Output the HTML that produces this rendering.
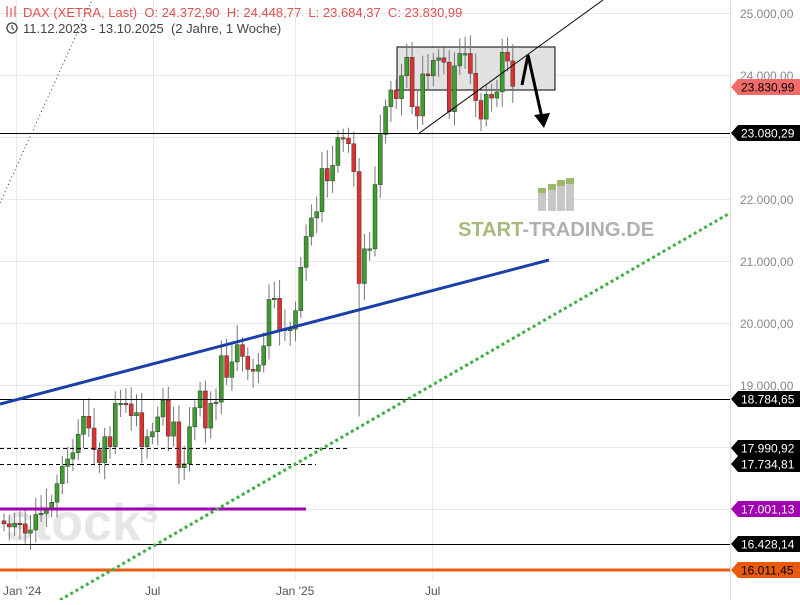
<!DOCTYPE html>
<html><head><meta charset="utf-8"><style>
body{margin:0;background:#fff;width:800px;height:600px;overflow:hidden;font-family:"Liberation Sans",sans-serif}
svg text{font-family:"Liberation Sans",sans-serif}
</style></head><body>
<svg id="s" width="800" height="600" xmlns="http://www.w3.org/2000/svg">
<g stroke="#e8e8e8" stroke-width="1">
<line x1="0" y1="13.5" x2="730" y2="13.5"/><line x1="0" y1="75.5" x2="730" y2="75.5"/><line x1="0" y1="137.5" x2="730" y2="137.5"/><line x1="0" y1="199.5" x2="730" y2="199.5"/><line x1="0" y1="261.5" x2="730" y2="261.5"/><line x1="0" y1="323.5" x2="730" y2="323.5"/><line x1="0" y1="385.5" x2="730" y2="385.5"/><line x1="0" y1="447.5" x2="730" y2="447.5"/><line x1="0" y1="509.5" x2="730" y2="509.5"/>
<line x1="16.5" y1="0" x2="16.5" y2="580"/><line x1="153.5" y1="0" x2="153.5" y2="580"/><line x1="295.5" y1="0" x2="295.5" y2="580"/><line x1="432.5" y1="0" x2="432.5" y2="580"/>
<line x1="730.5" y1="0" x2="730.5" y2="600" stroke="#ddd"/>
</g>
<text x="5" y="540" font-size="52" fill="#e6e6e6" font-weight="bold">stock³</text>
<g fill="#c8c8c8"><rect x="538" y="193" width="8" height="18"/><rect x="548" y="190" width="8" height="21"/><rect x="557" y="186" width="8" height="25"/><rect x="566" y="183" width="8" height="28"/></g>
<g fill="#9cb86a"><rect x="538" y="188" width="8" height="5"/><rect x="548" y="184" width="8" height="6"/><rect x="557" y="180" width="8" height="6"/><rect x="566" y="178" width="8" height="6"/></g>
<text x="458" y="236" font-size="20" font-weight="bold" fill="#a9b97a" textLength="196" lengthAdjust="spacingAndGlyphs">START<tspan fill="#b0b0b0">-TRADING.DE</tspan></text>
<rect x="397" y="47" width="158" height="43" fill="#e2e2e2" stroke="#000" stroke-width="1"/>
<g id="c"></g>
<line x1="0" y1="203" x2="92" y2="0" stroke="#333" stroke-width="1" stroke-dasharray="1 3"/>
<line x1="0" y1="133.5" x2="730" y2="133.5" stroke="#000"/>
<line x1="0" y1="399.5" x2="730" y2="399.5" stroke="#000"/>
<line x1="0" y1="544.5" x2="730" y2="544.5" stroke="#000"/>
<line x1="0" y1="448.5" x2="348" y2="448.5" stroke="#000" stroke-dasharray="4 3"/>
<line x1="0" y1="464.5" x2="316" y2="464.5" stroke="#000" stroke-dasharray="4 3"/>
<line x1="0" y1="509" x2="306" y2="509" stroke="#a000b0" stroke-width="3"/>
<line x1="0" y1="570" x2="730" y2="570" stroke="#e85a0e" stroke-width="3"/>
<line x1="0" y1="404" x2="549" y2="260" stroke="#1a3fa8" stroke-width="3"/>
<line x1="60" y1="600" x2="730" y2="213" stroke="#3cb043" stroke-width="3" stroke-dasharray="3 3"/>
<line x1="418" y1="134" x2="603" y2="0" stroke="#000" stroke-width="1"/>
<polyline points="522,85 528,55 542,118" fill="none" stroke="#000" stroke-width="3"/>
<polygon points="534,115 550,113 544,128" fill="#000"/>
<g font-size="12" fill="#888">
<text x="740" y="18">25.000,00</text><text x="740" y="80">24.000,00</text><text x="740" y="204">22.000,00</text><text x="740" y="266">21.000,00</text><text x="740" y="328">20.000,00</text><text x="740" y="390">19.000,00</text>
</g>
<g id="tags" font-size="12"></g>
<g font-size="12" fill="#555"><text x="3" y="595">Jan '24</text><text x="145" y="595">Jul</text><text x="276" y="595">Jan '25</text><text x="425" y="595">Jul</text></g>
<g fill="#e05050" font-size="13"><text x="23" y="17" xml:space="preserve">DAX (XETRA, Last)  O: 24.372,90  H: 24.448,77  L: 23.684,37  C: 23.830,99</text></g>
<g stroke="#e05050" stroke-width="1.2"><line x1="7" y1="6" x2="7" y2="17"/><line x1="11" y1="8" x2="11" y2="17"/><line x1="15" y1="6" x2="15" y2="17"/></g>
<circle cx="12" cy="28" r="5" fill="none" stroke="#444" stroke-width="1.3"/><polyline points="12,25 12,28 14,30" fill="none" stroke="#444" stroke-width="1.2"/>
<text x="23" y="33" font-size="13" fill="#444" xml:space="preserve">11.12.2023 - 13.10.2025  (2 Jahre, 1 Woche)</text>
</svg>
<script>
var Y=function(p){return 323-(p-20000)*0.0618;};
var cl=[16750,16700,16760,16750,16600,16650,16900,16920,17000,17100,17400,17680,17800,17900,18200,18490,18300,17950,17740,18160,18000,18700,18700,18690,18500,18550,18000,18160,18240,18480,18750,18170,18400,17660,17720,18320,18630,18900,18300,18700,18720,19470,19120,19370,19650,19460,19250,19220,19320,19630,20380,20400,19880,19900,19900,20200,20900,21400,21700,21800,22500,22300,22550,23000,22990,22900,22450,20640,21200,21200,22240,23050,23500,23770,23630,24000,24300,23500,23350,24030,24000,24250,24290,24220,23420,24160,24360,24360,24040,23600,23300,23700,23640,23740,24380,24240,23830];
var g=document.getElementById('c'),h='',o=16800;
for(var i=0;i<cl.length;i++){var c=cl[i];var x=2+i*5.3;var hi=Math.max(o,c)+120+((i*37)%9)*25,lo=Math.min(o,c)-120-((i*53)%7)*25;
if(i==67)lo=18490;
var col=c>=o?'#3aa02a':'#e03030';
h+='<line x1="'+(x+2)+'" y1="'+Y(hi)+'" x2="'+(x+2)+'" y2="'+Y(lo)+'" stroke="#777"/>';
var t=Y(Math.max(o,c)),b=Y(Math.min(o,c));if(b-t<1.5)b=t+1.5;
h+='<rect x="'+x+'" y="'+t+'" width="4" height="'+(b-t)+'" fill="'+col+'" stroke="#333" stroke-width="0.5"/>';o=c;}
g.innerHTML=h;
var tg=[[87,'23.830,99','#f26b6b','#000'],[133,'23.080,29','#000','#fff'],[399,'18.784,65','#000','#fff'],[448,'17.990,92','#000','#fff'],[464,'17.734,81','#000','#fff'],[509,'17.001,13','#a000b0','#fff'],[544,'16.428,14','#000','#fff'],[570,'16.011,45','#e85a0e','#000']];
var s='';tg.forEach(function(t){var y=t[0];s+='<polygon points="731,'+y+' 738,'+(y-8)+' 800,'+(y-8)+' 800,'+(y+8)+' 738,'+(y+8)+'" fill="'+t[2]+'"/><text x="741" y="'+(y+4.5)+'" fill="'+t[3]+'">'+t[1]+'</text>';});
document.getElementById('tags').innerHTML=s;
</script>
</body></html>
